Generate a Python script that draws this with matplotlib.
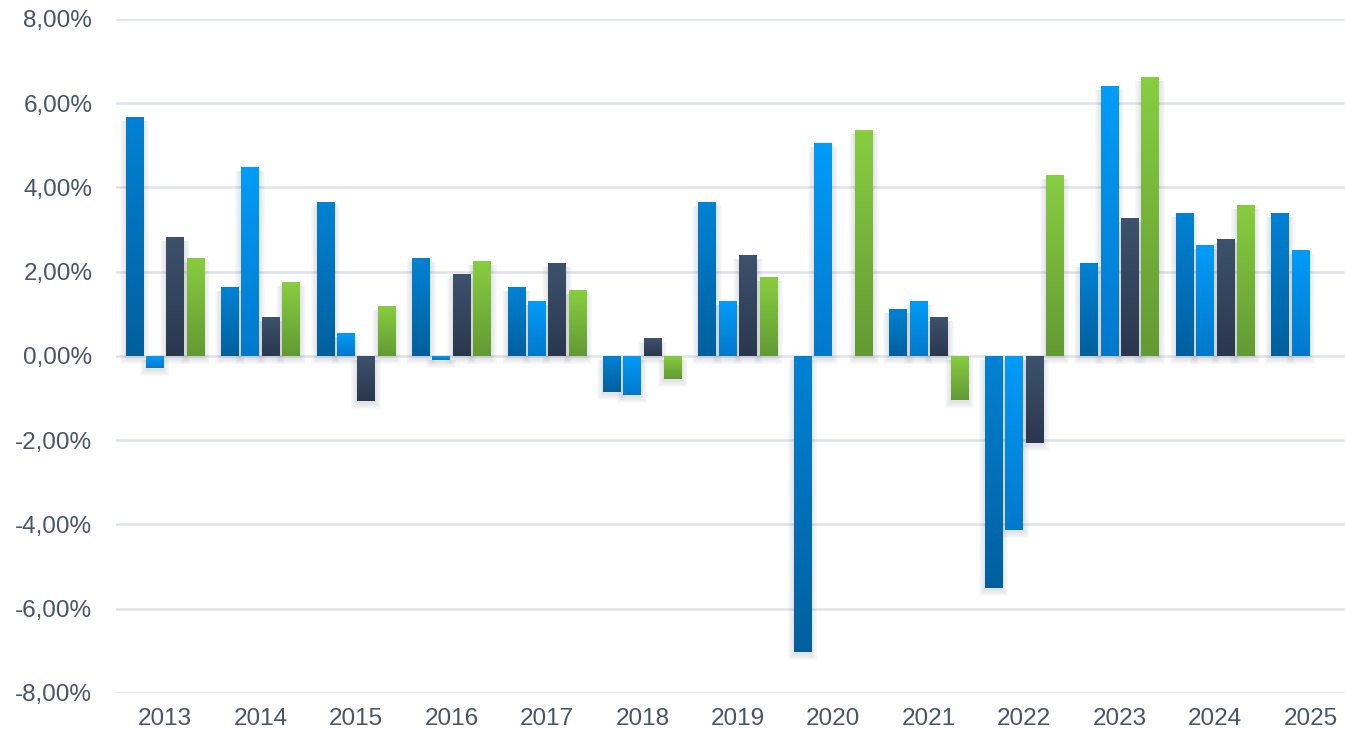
import matplotlib
matplotlib.use("Agg")
import matplotlib.pyplot as plt
import numpy as np
from matplotlib.colors import LinearSegmentedColormap
from matplotlib.patches import Rectangle

# quarterly returns in %, one list per quarter
years = ['2013', '2014', '2015', '2016', '2017', '2018', '2019',
         '2020', '2021', '2022', '2023', '2024', '2025']
q1 = [5.68, 1.63, 3.66, 2.33, 1.63, -0.86, 3.66, -7.02, 1.11, -5.50, 2.21, 3.40, 3.40]
q2 = [-0.29, 4.49, 0.54, -0.10, 1.30, -0.93, 1.30, 5.06, 1.30, -4.14, 6.40, 2.63, 2.52]
q3 = [2.83, 0.92, -1.06, 1.94, 2.21, 0.42, 2.40, np.nan, 0.92, -2.06, 3.28, 2.78, np.nan]
q4 = [2.33, 1.75, 1.18, 2.25, 1.56, -0.55, 1.87, 5.37, -1.05, 4.29, 6.63, 3.59, np.nan]

# gradient colours, top -> bottom
grads = [('#0082d4', '#00609e'),
         ('#009cf9', '#0079cc'),
         ('#3d526c', '#2a384e'),
         ('#88cd40', '#639a33')]

fig = plt.figure(figsize=(13.45, 7.29), dpi=100)
ax = fig.add_axes([0.0862, 0.0494, 0.9138, 0.9246])

x = np.arange(len(years))
offsets = [-0.32, -0.107, 0.107, 0.32]
width = 0.183
px_x = 1 / 95.5   # data units per pixel
px_y = 1 / 42.0

grad = np.linspace(1, 0, 64).reshape(-1, 1)

for series, off, (ctop, cbot) in zip([q1, q2, q3, q4], offsets, grads):
    vals = np.array(series, dtype=float)
    bars = ax.bar(x + off, vals, width, color=cbot, zorder=3, linewidth=0)
    cmap = LinearSegmentedColormap.from_list('g', [cbot, ctop])
    for b in bars:
        h = b.get_height()
        if np.isnan(h) or h == 0:
            continue
        x0, y0 = b.get_x(), b.get_y()
        w = b.get_width()
        ylo, yhi = min(y0, y0 + h), max(y0, y0 + h)
        # soft drop shadow, mostly below and beside the bar
        for k in range(1, 7):
            top = yhi - 4 * px_y
            bot = ylo - (2 + k) * px_y
            ax.add_patch(Rectangle((x0 - k * px_x, bot), w + 2 * k * px_x, top - bot,
                                   facecolor='#5a6070', alpha=0.028,
                                   linewidth=0, zorder=2))
        im = ax.imshow(grad, cmap=cmap, aspect='auto', vmin=0, vmax=1,
                       extent=[x0, x0 + w, ylo, yhi], zorder=4,
                       interpolation='bilinear')
        im.set_clip_path(b)

ax.set_xlim(-0.513, 12.36)
ax.set_ylim(-8, 8)
ax.set_yticks(np.arange(-8, 9, 2))
ax.set_yticklabels([f'{v:.2f}%'.replace('.', ',') for v in np.arange(-8, 9, 2)])
ax.set_xticks(x)
ax.set_xticklabels(years)

ax.grid(axis='y', color='#dfe3ea', linewidth=1.8, zorder=1)
ax.set_axisbelow(True)
for s in ax.spines.values():
    s.set_visible(False)
ax.tick_params(length=0, labelsize=17.5, colors='#475469')
ax.tick_params(axis='x', pad=11)
ax.tick_params(axis='y', pad=17)
for t in ax.get_xticklabels() + ax.get_yticklabels():
    t.set_fontfamily(['Liberation Sans', 'DejaVu Sans'])

fig.savefig('out.png', dpi=100, facecolor='white')
